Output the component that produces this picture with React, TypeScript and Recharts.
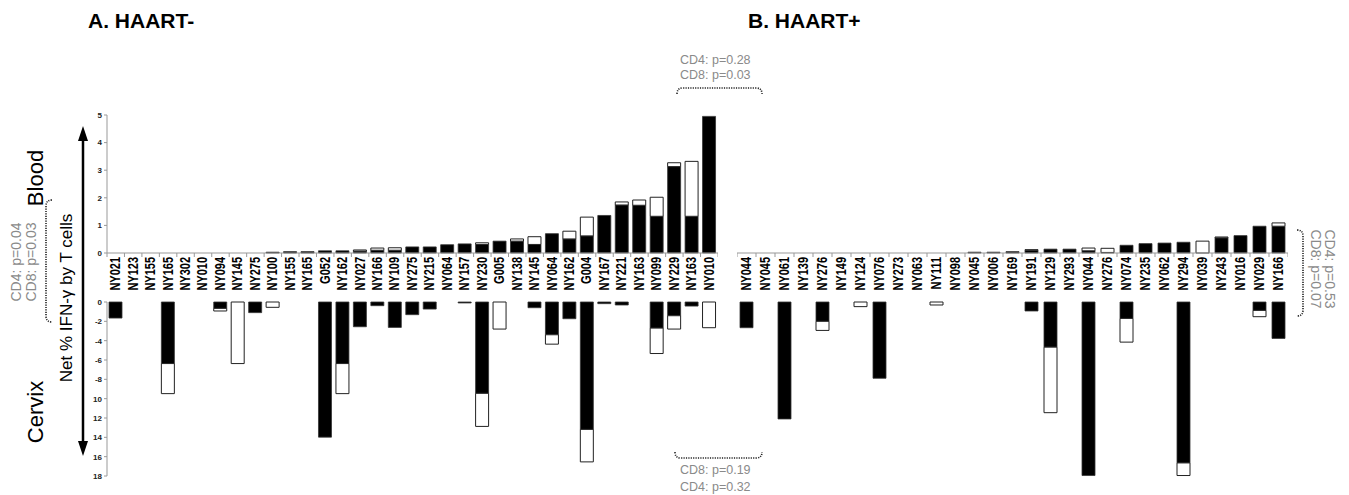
import React from 'react';
import { BarChart, Bar, XAxis, YAxis } from 'recharts';

const categoriesA = ['NY021', 'NY123', 'NY155', 'NY165', 'NY302', 'NY010', 'NY094', 'NY145', 'NY275', 'NY100', 'NY155', 'NY165', 'G052', 'NY162', 'NY027', 'NY166', 'NY109', 'NY275', 'NY215', 'NY064', 'NY157', 'NY230', 'G005', 'NY138', 'NY145', 'NY064', 'NY162', 'G004', 'NY167', 'NY221', 'NY163', 'NY099', 'NY229', 'NY163', 'NY010'];
const bloodBlackA = [0, 0, 0, 0, 0, 0, 0, 0, 0, 0.03, 0.05, 0.05, 0.08, 0.08, 0.07, 0.1, 0.1, 0.22, 0.22, 0.3, 0.33, 0.31, 0.43, 0.43, 0.31, 0.7, 0.51, 0.62, 1.36, 1.74, 1.73, 1.33, 3.13, 1.33, 4.95];
const bloodWhiteA = [0, 0, 0, 0, 0, 0, 0, 0, 0, 0, 0, 0, 0, 0, 0.04, 0.08, 0.09, 0, 0, 0, 0, 0.06, 0, 0.08, 0.28, 0, 0.28, 0.68, 0, 0.11, 0.19, 0.69, 0.14, 1.99, 0];
const cervixBlackA = [1.66, 0, 0, 6.37, 0, 0, 0.66, 0, 1.1, 0, 0, 0, 13.98, 6.37, 2.56, 0.38, 2.63, 1.31, 0.73, 0, 0.1, 9.45, 0, 0, 0.59, 3.39, 1.73, 13.18, 0.17, 0.31, 0, 2.7, 1.42, 0.42, 0];
const cervixWhiteA = [0, 0, 0, 3.11, 0, 0, 0.27, 6.37, 0, 0.55, 0, 0, 0, 3.11, 0, 0, 0, 0, 0, 0, 0, 3.42, 2.8, 0, 0, 0.97, 0, 3.36, 0, 0, 0, 2.63, 1.38, 0, 2.66];

const categoriesB = ['NY044', 'NY045', 'NY061', 'NY139', 'NY276', 'NY149', 'NY124', 'NY076', 'NY273', 'NY063', 'NY111', 'NY098', 'NY045', 'NY006', 'NY169', 'NY191', 'NY129', 'NY293', 'NY044', 'NY276', 'NY074', 'NY235', 'NY062', 'NY294', 'NY039', 'NY243', 'NY016', 'NY029', 'NY166'];
const bloodBlackB = [0, 0, 0, 0, 0, 0, 0, 0, 0, 0, 0, 0, 0.03, 0.03, 0.05, 0.1, 0.14, 0.14, 0.08, 0.02, 0.28, 0.34, 0.36, 0.39, 0, 0.55, 0.63, 0.97, 0.97];
const bloodWhiteB = [0, 0, 0, 0, 0, 0, 0, 0, 0, 0, 0, 0, 0, 0, 0, 0.02, 0, 0, 0.1, 0.15, 0, 0, 0, 0, 0.43, 0.03, 0, 0, 0.12];
const cervixBlackB = [2.66, 0, 12.1, 0, 2.0, 0, 0, 7.89, 0, 0, 0, 0, 0, 0, 0, 0.93, 4.67, 0, 17.95, 0, 1.7, 0, 0, 16.65, 0, 0, 0, 0.87, 3.77];
const cervixWhiteB = [0, 0, 0, 0, 0.94, 0, 0.48, 0, 0, 0, 0.31, 0, 0, 0, 0, 0, 6.78, 0, 0, 0, 2.45, 0, 0, 1.3, 0, 0, 0, 0.65, 0];

const bloodTicks = [0, 1, 2, 3, 4, 5];
const cervixTicks = [0, 2, 4, 6, 8, 10, 12, 14, 16, 18];
const cervixTickLabels = ['0', '-2', '-4', '-6', '-8', '10', '12', '14', '16', '18'];

const FONT = '"Liberation Sans", Arial, sans-serif';

const toRows = (cats: string[], black: number[], white: number[]) =>
  cats.map((name, i) => ({ name, black: black[i], white: white[i] }));

const CategoryTick = (props: any) => {
  const { x, y, payload, index, band, count, label, up } = props;
  const dir = up ? -1 : 1;
  const left = x - band / 2;
  return (
    <g>
      <line x1={left} x2={left} y1={y} y2={y + dir * 4} stroke="#999" />
      {index === count - 1 && <line x1={left + band} x2={left + band} y1={y} y2={y + dir * 4} stroke="#999" />}
      {label && (
        <text
          transform={`translate(${x},${y + 4}) rotate(-90) scale(1,1.25)`}
          textAnchor="end"
          dominantBaseline="central"
          fontSize={11}
          fontWeight="bold"
          fontFamily={FONT}
          fill="#000"
        >
          {payload.value}
        </text>
      )}
    </g>
  );
};

const yTick = { fontSize: 8, fontWeight: 'bold', fill: '#222', fontFamily: FONT } as any;

function Panel({ cats, bb, bw, cb, cw, left, width, showAxis }: any) {
  const blood = toRows(cats, bb, bw);
  const cervix = toRows(cats, cb, cw);
  const plotW = showAxis ? width - 30 : width;
  const band = plotW / cats.length;
  return (
    <>
      <div style={{ position: 'absolute', left, top: 105 }}>
        <BarChart width={width} height={196} data={blood} margin={{ top: 10, right: 0, left: 0, bottom: 0 }} barSize={13}>
          <XAxis
            dataKey="name"
            interval={0}
            height={48}
            tickSize={0}
            tickMargin={0}
            axisLine={{ stroke: '#999' }}
            tickLine={false}
            tick={<CategoryTick band={band} count={cats.length} label />}
          />
          <YAxis
            hide={!showAxis}
            width={30}
            domain={[0, 5]}
            ticks={bloodTicks}
            tickSize={3}
            axisLine={{ stroke: '#999' }}
            tickLine={{ stroke: '#999' }}
            tick={yTick}
          />
          <Bar dataKey="black" stackId="s" fill="#000" stroke="#333" strokeWidth={0.8} isAnimationActive={false} />
          <Bar dataKey="white" stackId="s" fill="#fff" stroke="#222" strokeWidth={1} isAnimationActive={false} />
        </BarChart>
      </div>
      <div style={{ position: 'absolute', left, top: 292 }}>
        <BarChart width={width} height={192} data={cervix} margin={{ top: 10, right: 0, left: 0, bottom: 8 }} barSize={13}>
          <XAxis
            dataKey="name"
            orientation="top"
            interval={0}
            height={0}
            tickSize={0}
            tickMargin={0}
            axisLine={{ stroke: '#999' }}
            tickLine={false}
            tick={<CategoryTick band={band} count={cats.length} up />}
          />
          <YAxis
            hide={!showAxis}
            width={30}
            reversed
            domain={[0, 18]}
            ticks={cervixTicks}
            tickFormatter={(v: number) => cervixTickLabels[cervixTicks.indexOf(v)]}
            tickSize={3}
            axisLine={{ stroke: '#999' }}
            tickLine={{ stroke: '#999' }}
            tick={yTick}
          />
          <Bar dataKey="black" stackId="s" fill="#000" stroke="#333" strokeWidth={0.8} isAnimationActive={false} />
          <Bar dataKey="white" stackId="s" fill="#fff" stroke="#222" strokeWidth={1} isAnimationActive={false} />
        </BarChart>
      </div>
    </>
  );
}

export default function App() {
  const grey = '#8a8a8a';
  const dotted = { fill: 'none', stroke: '#222', strokeWidth: 1.6, strokeDasharray: '1.2 1.2' };
  return (
    <div style={{ position: 'absolute', left: 0, top: 0, width: 1349, height: 495, background: '#fff', fontFamily: FONT }}>
      <Panel cats={categoriesA} bb={bloodBlackA} bw={bloodWhiteA} cb={cervixBlackA} cw={cervixWhiteA} left={77} width={641} showAxis />
      <Panel cats={categoriesB} bb={bloodBlackB} bw={bloodWhiteB} cb={cervixBlackB} cw={cervixWhiteB} left={737} width={551} showAxis={false} />
      <svg width={1349} height={495} style={{ position: 'absolute', left: 0, top: 0, pointerEvents: 'none' }} fontFamily={FONT}>
        <text x={88} y={28} fontSize={21} fontWeight="bold">A. HAART-</text>
        <text x={748} y={28} fontSize={21} fontWeight="bold">B. HAART+</text>

        <text transform="translate(43,178) rotate(-90)" textAnchor="middle" fontSize={22}>Blood</text>
        <text transform="translate(43,412) rotate(-90)" textAnchor="middle" fontSize={22}>Cervix</text>
        <text transform="translate(72,298) rotate(-90)" textAnchor="middle" fontSize={17}>Net % IFN-γ by T cells</text>

        <line x1={83} x2={83} y1={136} y2={446} stroke="#000" strokeWidth={2.5} />
        <polygon points="83,126 78,141 88,141" fill="#000" />
        <polygon points="83,456 78,441 88,441" fill="#000" />

        <text transform="translate(21,262) rotate(-90)" textAnchor="middle" fontSize={14} fill={grey}>CD4: p=0.04</text>
        <text transform="translate(36,262) rotate(-90)" textAnchor="middle" fontSize={14} fill={grey}>CD8: p=0.03</text>
        <path d="M 52 200 Q 46 200 46 206 L 46 316 Q 46 322 52 322" {...dotted} />

        <text x={680} y={64} fontSize={12.5} fill={grey}>CD4: p=0.28</text>
        <text x={680} y={79} fontSize={12.5} fill={grey}>CD8: p=0.03</text>
        <path d="M 677 94 Q 677 88 683 88 L 756 88 Q 762 88 762 94" {...dotted} />

        <path d="M 675 452 Q 675 458 681 458 L 756 458 Q 762 458 762 452" {...dotted} />
        <text x={680} y={474} fontSize={12.5} fill={grey}>CD8: p=0.19</text>
        <text x={680} y={491} fontSize={12.5} fill={grey}>CD4: p=0.32</text>

        <text transform="translate(1325,269) rotate(90)" textAnchor="middle" fontSize={14} fill={grey}>CD4: p=0.53</text>
        <text transform="translate(1311,269) rotate(90)" textAnchor="middle" fontSize={14} fill={grey}>CD8: p=0.07</text>
        <path d="M 1297 230 Q 1303 230 1303 236 L 1303 310 Q 1303 316 1297 316" {...dotted} />
      </svg>
    </div>
  );
}
